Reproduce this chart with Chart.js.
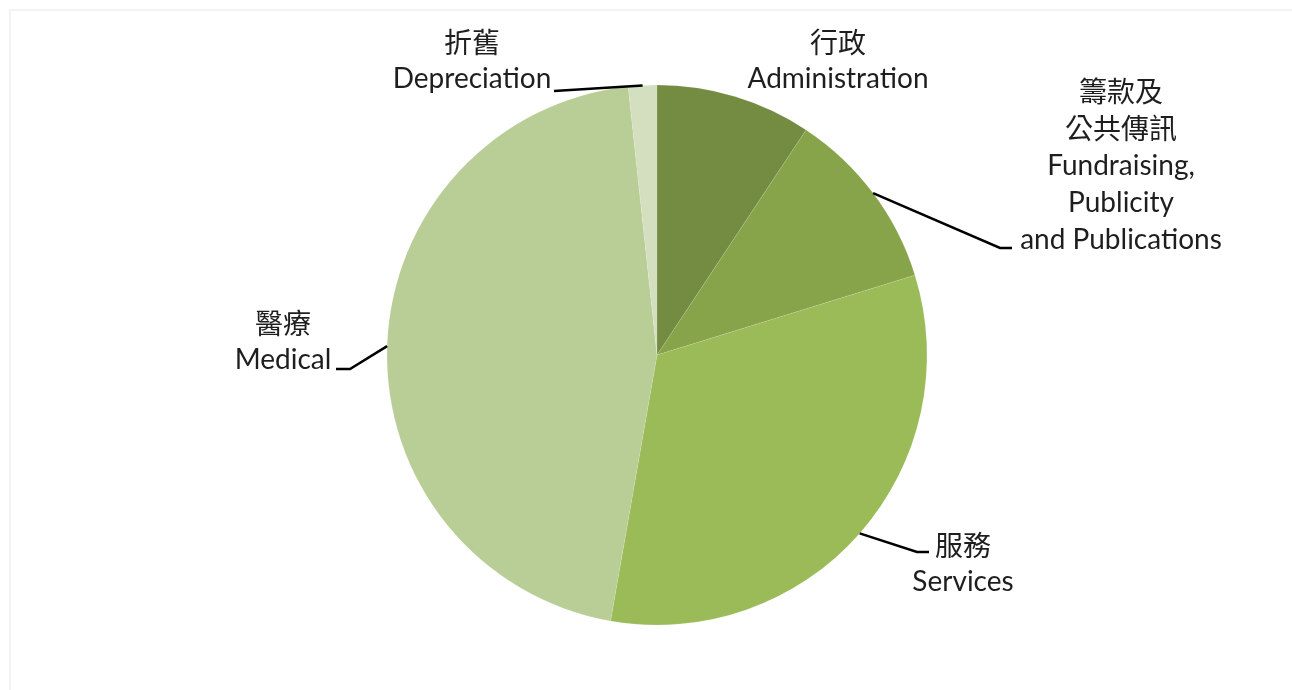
<!DOCTYPE html>
<html>
<head>
<meta charset="utf-8">
<title>Expenditure pie</title>
<script src="https://cdn.jsdelivr.net/npm/chart.js@4.4.1/dist/chart.umd.min.js"></script>
<style>
  html, body { margin: 0; padding: 0; background: #fff; }
  #wrap { position: relative; width: 1292px; height: 690px; overflow: hidden; }
  #frame { position: absolute; left: 9px; top: 9px; width: 1300px; height: 700px;
           border-top: 2px solid #f3f3f3; border-left: 2px solid #f3f3f3; }
  canvas { position: absolute; left: 0; top: 0; }
</style>
</head>
<body>
<div id="wrap">
  <div id="frame"></div>
  <canvas id="pie" width="1292" height="690"></canvas>
</div>
<script>
/*****************************************
 * 1. DATA (% of total)
 *****************************************/
const categories = ['Administration', 'Fundraising, Publicity and Publications', 'Services', 'Medical', 'Depreciation'];
const values = [9.3, 10.9, 32.5, 45.5, 1.7];

// label text, one entry per slice, split into lines
const labelsZh = [['行政'], ['籌款及', '公共傳訊'], ['服務'], ['醫療'], ['折舊']];
const labelsEn = [['Administration'], ['Fundraising,', 'Publicity', 'and Publications'], ['Services'], ['Medical'], ['Depreciation']];

const sliceColors = ['#738c41', '#87a44b', '#9bbb59', '#b9cd96', '#d3dfbe'];

/*****************************************
 * 2. LABEL PLACEMENT (style only)
 *****************************************/
// cx / top = centre x and first line y of the label block
// elbow / end = where the leader line bends and stops (null = no leader line)
const labelLayout = [
    { cx: 838,  top: 42,  elbow: null,       end: null },
    { cx: 1121, top: 91,  elbow: [1000, 248], end: [1012, 248] },
    { cx: 963,  top: 545, elbow: [917, 552],  end: [929, 552] },
    { cx: 283,  top: 323, elbow: [350, 369],  end: [336, 369] },
    { cx: 472,  top: 42,  elbow: null,       end: [554, 91] }
];
const lineGap = 37.3;
const latinFont = "28px Lato";
const cjkFont = "28px 'Noto Sans CJK TC'";

const sliceLabels = {
    id: 'sliceLabels',
    afterDatasetsDraw(chart) {
        const ctx = chart.ctx;
        const arcs = chart.getDatasetMeta(0).data;
        ctx.save();
        arcs.forEach((arc, i) => {
            const lay = labelLayout[i];
            const { x, y, startAngle, endAngle, outerRadius } =
                arc.getProps(['x', 'y', 'startAngle', 'endAngle', 'outerRadius'], true);
            const mid = (startAngle + endAngle) / 2;
            const px = x + Math.cos(mid) * outerRadius;
            const py = y + Math.sin(mid) * outerRadius;

            // leader line from slice edge to the label
            if (lay.end) {
                ctx.strokeStyle = '#000';
                ctx.lineWidth = 2.5;
                ctx.beginPath();
                ctx.moveTo(px, py);
                if (lay.elbow) ctx.lineTo(lay.elbow[0], lay.elbow[1]);
                ctx.lineTo(lay.end[0], lay.end[1]);
                ctx.stroke();
            }

            // text lines: chinese first, english below
            ctx.fillStyle = '#1e1e1e';
            ctx.textAlign = 'center';
            ctx.textBaseline = 'middle';
            let ly = lay.top;
            labelsZh[i].forEach(t => {
                ctx.font = cjkFont;
                ctx.fillText(t, lay.cx, ly);
                ly += lineGap;
            });
            labelsEn[i].forEach(t => {
                ctx.font = latinFont;
                ctx.fillText(t, lay.cx, ly);
                ly += lineGap;
            });
        });
        ctx.restore();
    }
};

/*****************************************
 * 3. CHART
 *****************************************/
const ctx = document.getElementById('pie').getContext('2d');
const pieChart = new Chart(ctx, {
    type: 'pie',
    data: {
        labels: categories,
        datasets: [{
            data: values,
            backgroundColor: sliceColors,
            borderColor: 'rgba(255,255,255,0.2)',
            borderWidth: 0.5,
            radius: 270
        }]
    },
    options: {
        responsive: false,
        animation: false,
        events: [],
        layout: { padding: { left: 22, top: 20, right: 0, bottom: 0 } },
        plugins: {
            legend: { display: false },
            tooltip: { enabled: false }
        }
    },
    plugins: [sliceLabels]
});
</script>
</body>
</html>
